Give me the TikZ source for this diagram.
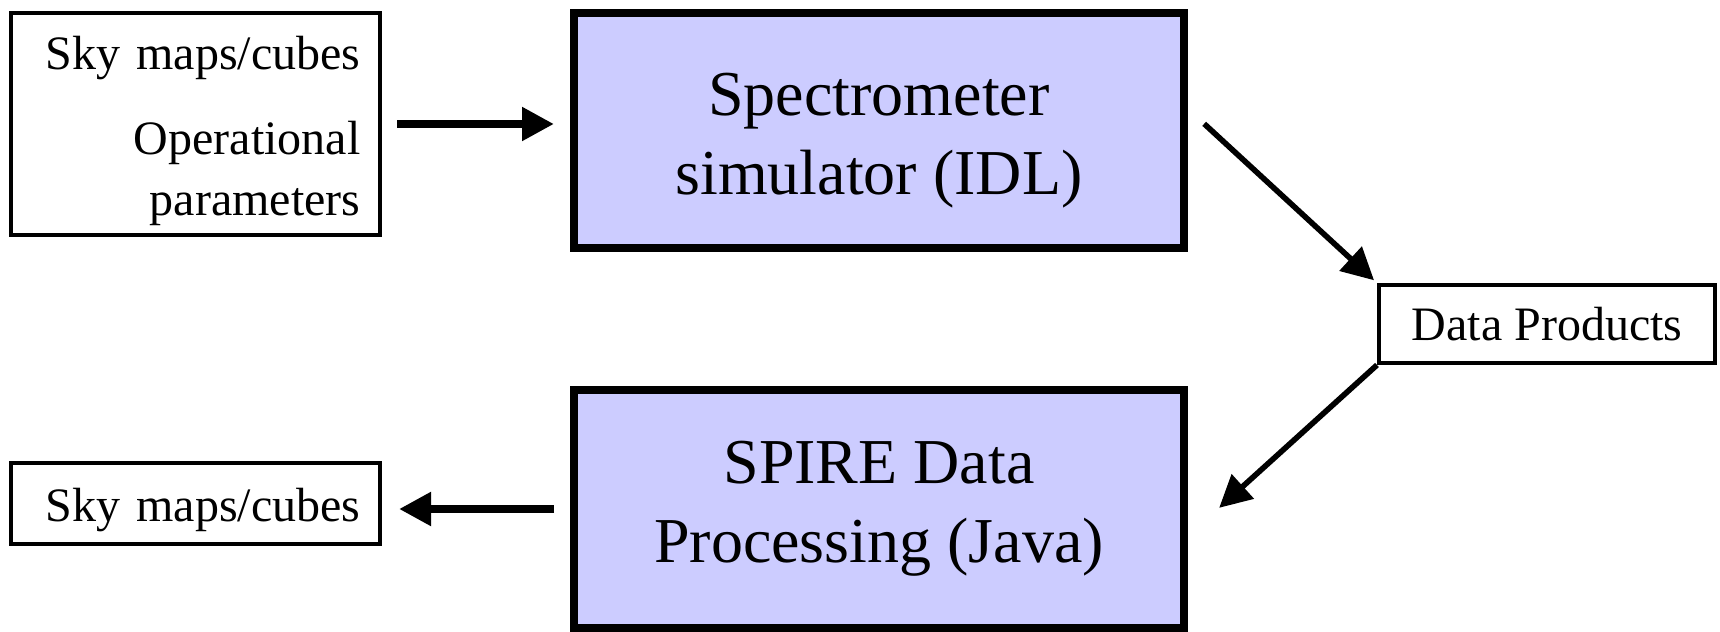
\documentclass[tikz,border=0pt]{standalone}
\usepackage{fontspec}
\setmainfont{Liberation Serif}
\usetikzlibrary{arrows.meta}
\definecolor{lavender}{RGB}{204,204,255}
\begin{document}
\begin{tikzpicture}[
  x=0.5pt, y=0.5pt,
  small/.style={draw, line width=2pt, minimum width=184.5pt,
    font=\fontsize{24}{30.5}\selectfont},
  big/.style={draw, line width=4pt, fill=lavender, align=center,
    minimum width=305pt, minimum height=117.5pt,
    font=\fontsize{32}{39.5}\selectfont},
  arr/.style={line width=4pt, -{Triangle[length=16pt,width=16pt]}},
  diag/.style={line width=2.8pt, -{Triangle[length=16pt,width=16pt]}}
]
\useasboundingbox (0,0) rectangle (1720,632);

\node[small, minimum height=111pt, text width=165pt, align=right] (maps) at (195.5,508)
  {\rule{0pt}{24pt}Sky maps/cubes\\[12pt]Operational\\parameters};
\node[big] (sim) at (879,501.5) {\rule{0pt}{31pt}Spectrometer\\simulator (IDL)};
\node[small, minimum width=168pt, minimum height=39pt] (dp) at (1547,308) {Data Products};
\node[big, minimum height=119pt] (proc) at (879,123) {SPIRE Data\\Processing (Java)};
\node[small, minimum height=40.5pt, text width=165pt, align=right] (result) at (195.5,128.5)
  {\rule{0pt}{23.5pt}Sky maps/cubes};

% data flow
\draw[arr, shorten <=7.5pt, shorten >=8pt] (maps.east) -- (maps.east -| sim.west);
\draw[diag, shorten <=11pt, shorten >=2pt] (sim.4) -- (dp.north west);
\draw[diag, shorten >=21pt] (dp.south west) -- (proc.-5);
\draw[arr, shorten <=8pt, shorten >=8.5pt] (proc.west) -- (proc.west -| result.east);
\end{tikzpicture}
\end{document}
